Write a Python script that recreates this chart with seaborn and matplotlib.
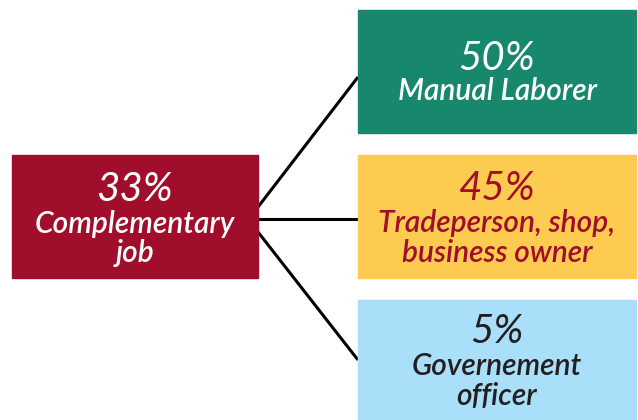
import matplotlib
matplotlib.use("Agg")
import matplotlib.pyplot as plt
import seaborn as sns
from matplotlib.patches import Rectangle

# data
source_pct = "33%"
source_label = ["Complementary", "job"]
target_pcts = ["50%", "45%", "5%"]
target_labels = [["Manual Laborer"],
                 ["Tradeperson, shop,", "business owner"],
                 ["Governement", "officer"]]

box_colors = {"source": "#A10E2B", "targets": ["#17876E", "#FECB51", "#AADFF9"]}
text_colors = {"source": "white", "targets": ["white", "#A10E2B", "#231F20"]}

sns.set_theme(style="white")
plt.rcParams["font.family"] = ["Lato", "DejaVu Sans"]

fig = plt.figure(figsize=(6.38, 4.2), dpi=100)
ax = fig.add_axes([0, 0, 1, 1])
ax.set_xlim(0, 638)
ax.set_ylim(420, 0)
ax.axis("off")

# layout in pixels
src_box = (12, 155, 246, 123)
tgt_boxes = [(358, 10, 278, 123), (358, 155, 278, 123), (358, 300, 278, 125)]
src_ends = [207, 219, 232]
tgt_ends = [77, 219, 360]

for y0, y1 in zip(src_ends, tgt_ends):
    ax.plot([258, 358], [y0, y1], color="black", lw=2.2, solid_capstyle="butt", zorder=1)

x, y, w, h = src_box
ax.add_patch(Rectangle((x, y), w, h, color=box_colors["source"], zorder=2))


def draw_text(cx, baselines, pct, labels, color):
    ax.text(cx, baselines[0], pct, ha="center", va="baseline", fontsize=29,
            style="italic", color=color, zorder=3)
    for b, lab in zip(baselines[1:], labels):
        ax.text(cx, b, lab, ha="center", va="baseline", fontsize=21.5,
                style="italic", weight="semibold", color=color, zorder=3)


draw_text(135, [201, 233, 262], source_pct, source_label, text_colors["source"])

tgt_baselines = [[70, 100], [200, 232, 262], [343, 375, 405]]
for (x, y, w, h), col, tcol, pct, labs, bl in zip(tgt_boxes, box_colors["targets"],
                                                 text_colors["targets"], target_pcts,
                                                 target_labels, tgt_baselines):
    ax.add_patch(Rectangle((x, y), w, h, color=col, zorder=2))
    draw_text(x + w / 2, bl, pct, labs, tcol)

fig.savefig("out.png", dpi=100)
